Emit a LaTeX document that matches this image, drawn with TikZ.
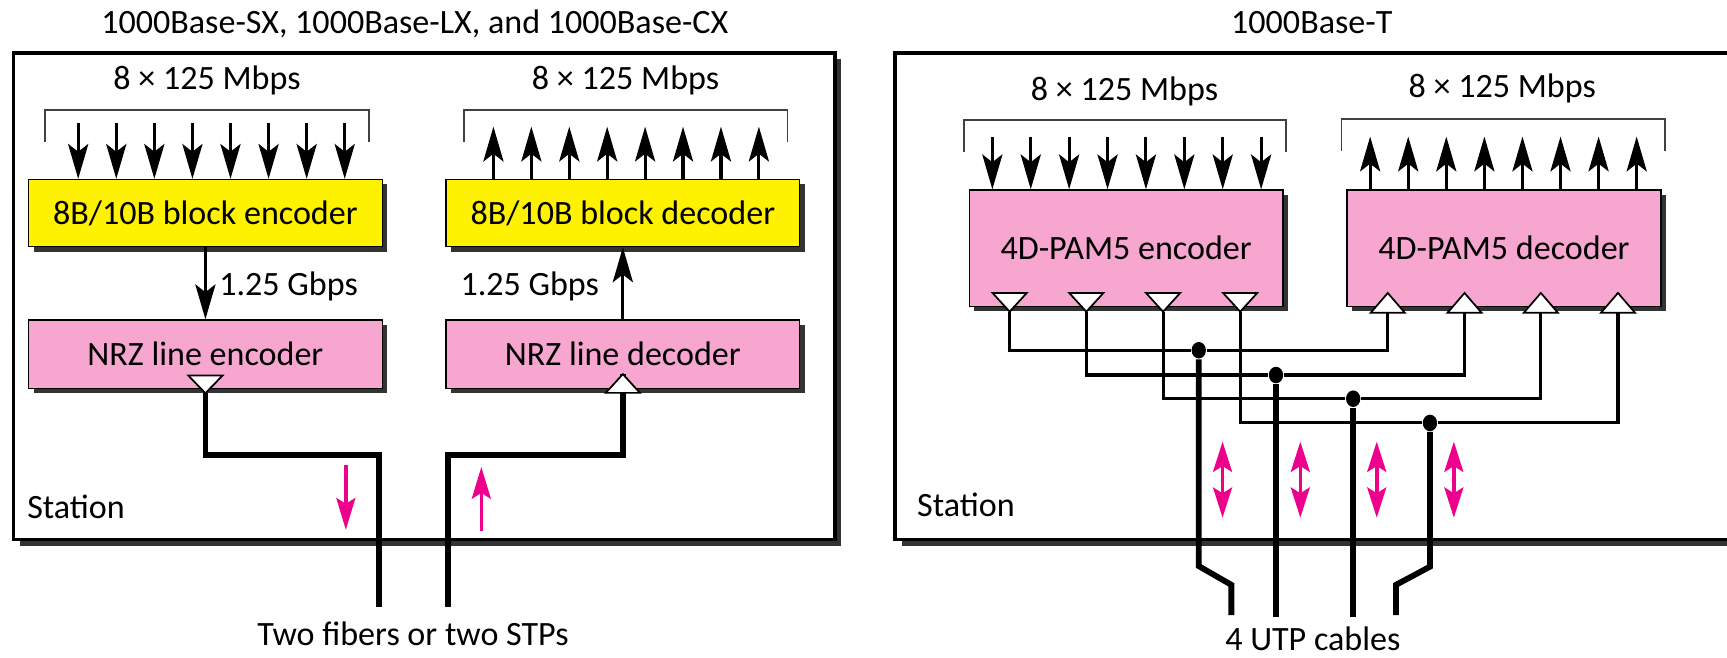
\documentclass[tikz,border=0pt]{standalone}
\usepackage{fontspec}
\setmainfont{Carlito}
\usetikzlibrary{arrows.meta,shadows,shapes.geometric}
\definecolor{blockpink}{RGB}{247,166,208}
\definecolor{flowpink}{RGB}{236,0,140}
\definecolor{shade}{RGB}{51,51,51}
\begin{document}
\begin{tikzpicture}[x=0.1mm, y=-0.1mm, font=\fontsize{8.8}{10.5}\selectfont,
  station/.style={draw, line width=0.85pt, fill=white, drop shadow={shadow xshift=0.6mm, shadow yshift=-0.6mm, fill=shade, opacity=1}},
  block/.style={draw, line width=0.35pt, inner sep=0pt, drop shadow={shadow xshift=0.45mm, shadow yshift=-0.45mm, fill=shade, opacity=1}},
  brace/.style={draw=black!75, line width=0.5pt},
  arr/.style={-{Stealth[length=9pt, width=5.2pt, inset=2pt]}, line width=0.8pt},
  cable/.style={line width=1.5pt},
  wire/.style={line width=0.8pt},
  port/.style={draw, fill=white, line width=0.45pt},
  flow/.style={flowpink, line width=0.9pt, -{Stealth[length=8.2pt, width=4.9pt, inset=1.5pt]}},
  flowtwo/.style={flowpink, line width=0.9pt, {Stealth[length=7.8pt, width=4.9pt, inset=1.5pt]}-{Stealth[length=7.8pt, width=4.9pt, inset=1.5pt]}},
  dot/.style={ellipse, fill, minimum width=1.3mm, minimum height=1.5mm, inner sep=0pt}]
\useasboundingbox (0,0) rectangle (1568,597);
% 1000Base-SX / LX / CX
\node[station, minimum width=74.55mm, minimum height=44.2mm] (stA) at (385.25,269) {};
\node[anchor=base] (ttlA) at (376.6,30) {1000Base-SX, 1000Base-LX, and 1000Base-CX};
\node (rateA) at (188,73) {8 × 125 Mbps};
\node (rateB) at (568,73) {8 × 125 Mbps};
\draw[brace] (41,128.6) -- (41,100) -- (335,100) -- (335,128.6);
\draw[brace] (421,128.6) -- (421,100) -- (715,100) -- (715,128.6);
\node[block, fill=yellow, minimum width=32.1mm, minimum height=6.1mm] (encA) at (186.5,193.5) {8B/10B block encoder};
\node[block, fill=yellow, minimum width=32.1mm, minimum height=6.1mm] (decA) at (565.5,193.5) {8B/10B block decoder};
\node[block, fill=blockpink, minimum width=32.1mm, minimum height=6.2mm] (nrzA) at (186.5,321.5) {NRZ line encoder};
\node[block, fill=blockpink, minimum width=32.1mm, minimum height=6.2mm] (nrzB) at (565.5,321.5) {NRZ line decoder};
\foreach \i in {0,...,7} {
  \coordinate (inA\i) at (71+34.57*\i,112);
  \draw[arr] (inA\i) -- (inA\i |- encA.north);
  \coordinate (outA\i) at (448+34.43*\i,115);
  \draw[arr] (outA\i |- decA.north) -- (outA\i);
}
\draw[arr] (encA) -- (nrzA);
\draw[arr] (nrzB) -- (decA);
\node (gbA) at (262,260) {1.25 Gbps};
\node (gbB) at (481,260) {1.25 Gbps};
\coordinate (pA) at (186.5,357);
\coordinate (pB) at (565.5,339.7);
\coordinate (fibA) at (344,551);
\coordinate (fibB) at (406.5,551);
\draw[cable] (pA) -- ++(0,56) -| (fibA);
\draw[cable] (pB) -- ++(0,73.3) -| (fibB);
\draw[port] (pA) -- ++(-15.5,-16) -- ++(31,0) -- cycle;
\draw[port] (pB) -- ++(-15.5,17) -- ++(31,0) -- cycle;
\draw[flow] (314,422) -- (314,481);
\draw[flow] (437,482) -- (437,424);
\node (staA) at (69,460) {Station};
\node (cabA) at (375,575) {Two fibers or two STPs};
% 1000Base-T
\node[station, minimum width=78.73mm, minimum height=44.2mm] (stB) at (1206.35,269) {};
\node[anchor=base] (ttlB) at (1191,30) {1000Base-T};
\node (rateC) at (1021,83) {8 × 125 Mbps};
\node (rateD) at (1364,80) {8 × 125 Mbps};
\draw[brace] (875,137.7) -- (875,109) -- (1168,109) -- (1168,137.7);
\draw[brace] (1218,137) -- (1218,108) -- (1512,108) -- (1512,137);
\node[block, fill=blockpink, minimum width=28.5mm, minimum height=10.55mm] (pamA) at (1022.5,225.25) {4D-PAM5 encoder};
\node[block, fill=blockpink, minimum width=28.5mm, minimum height=10.55mm] (pamB) at (1365.5,225.25) {4D-PAM5 decoder};
\foreach \i in {0,...,7} {
  \coordinate (inC\i) at (901+34.86*\i,124);
  \draw[arr] (inC\i) -- (inC\i |- pamA.north);
  \coordinate (outC\i) at (1244+34.57*\i,124);
  \draw[arr] (outC\i |- pamB.north) -- (outC\i);
}
\foreach \k/\xe/\xd/\xj/\yw in {1/916.7/1260/1088.4/318, 2/986.3/1329.7/1158.5/340.5, 3/1056/1399/1228.6/362, 4/1126/1469/1298.3/384} {
  \coordinate (qE\k) at (\xe,283);
  \coordinate (qD\k) at (\xd,266);
  \node[dot] (j\k) at (\xj,\yw) {};
  \draw[wire] (qE\k) |- (j\k) -| (qD\k);
}
\coordinate (utp1) at (1118,558.4);
\coordinate (utp2) at (1158.5,560);
\coordinate (utp3) at (1228.6,560);
\coordinate (utp4) at (1267.5,558.4);
\draw[cable] (j1) -- ++(0,196) -- ++(29.6,17) -- (utp1);
\draw[cable] (j2) -- (utp2);
\draw[cable] (j3) -- (utp3);
\draw[cable] (j4) -- ++(0,130.5) -- ++(-30.8,16.5) -- (utp4);
\foreach \k in {1,...,4} {
  \draw[port] (qE\k) -- ++(-15.5,-17) -- ++(31,0) -- cycle;
  \draw[port] (qD\k) -- ++(-15.5,18) -- ++(31,0) -- cycle;
}
\foreach \x in {1110,1180.6,1250,1320} \draw[flowtwo] (\x,401) -- (\x,470);
\node (staB) at (877,458) {Station};
\node (cabB) at (1192,580) {4 UTP cables};
\end{tikzpicture}
\end{document}
